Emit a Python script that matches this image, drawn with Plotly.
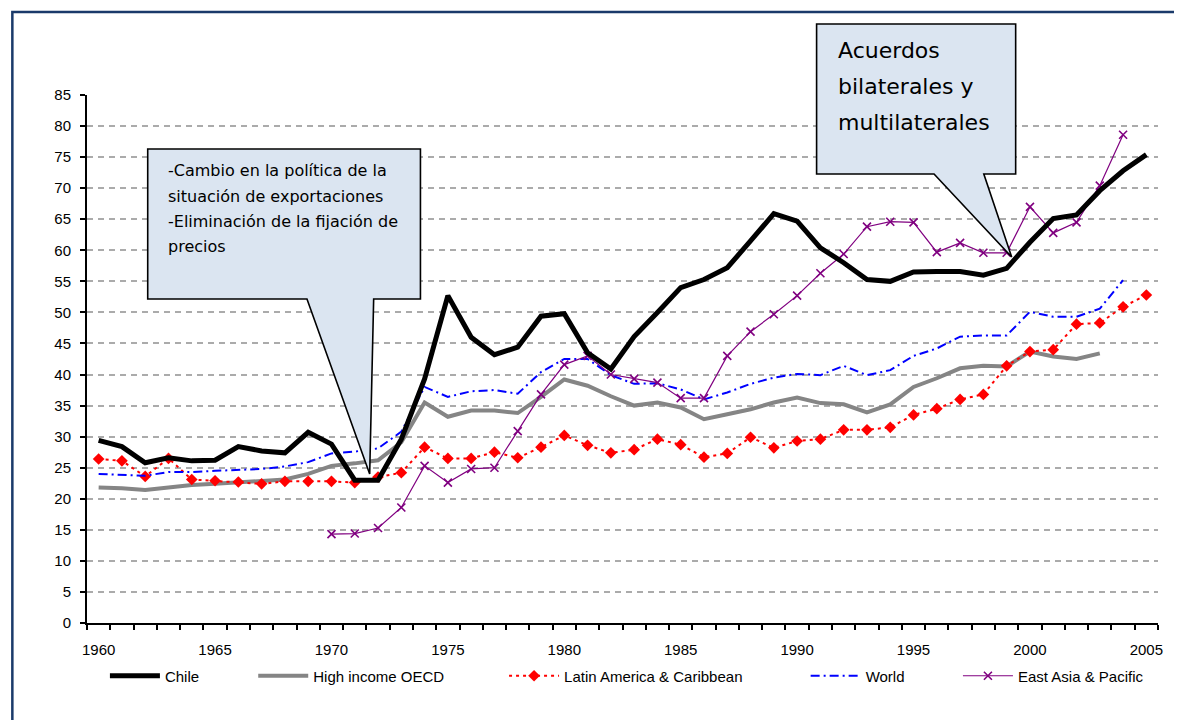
import plotly.graph_objects as go

# ---------------- data ----------------
years = list(range(1960, 2006))

chile = [29.4, 28.4, 25.8, 26.6, 26.1, 26.2, 28.4, 27.7, 27.4, 30.7,
         28.8, 23.0, 23.0, 29.6, 39.3, 52.7, 46.0, 43.2, 44.4, 49.4,
         49.8, 43.5, 40.9, 46.1, 50.0, 54.0, 55.3, 57.2, 61.5, 65.9,
         64.7, 60.4, 58.0, 55.3, 55.0, 56.5, 56.6, 56.6, 56.0, 57.1,
         61.3, 65.1, 65.7, 69.6, 72.8, 75.4]

oecd_years = list(range(1960, 2004))
oecd = [21.8, 21.7, 21.4, 21.8, 22.2, 22.4, 22.6, 22.8, 23.1, 24.0,
        25.3, 25.7, 26.2, 29.1, 35.5, 33.2, 34.2, 34.2, 33.8, 36.4,
        39.2, 38.2, 36.5, 35.0, 35.5, 34.7, 32.8, 33.6, 34.4, 35.5,
        36.3, 35.4, 35.2, 33.9, 35.2, 38.0, 39.4, 41.0, 41.4, 41.3,
        43.7, 42.9, 42.5, 43.4]

latam = [26.4, 26.1, 23.6, 26.5, 23.1, 22.9, 22.7, 22.4, 22.8, 22.8,
         22.8, 22.6, 23.5, 24.2, 28.3, 26.5, 26.5, 27.5, 26.6, 28.3,
         30.2, 28.6, 27.4, 27.9, 29.6, 28.7, 26.7, 27.3, 29.9, 28.2,
         29.3, 29.6, 31.1, 31.1, 31.5, 33.5, 34.5, 36.0, 36.8, 41.4,
         43.7, 44.0, 48.1, 48.3, 50.9, 52.8]

world_years = list(range(1960, 2005))
world = [24.0, 23.9, 23.7, 24.3, 24.3, 24.5, 24.6, 24.8, 25.2, 25.9,
         27.3, 27.6, 28.1, 30.8, 38.0, 36.4, 37.3, 37.5, 36.9, 40.4,
         42.5, 42.5, 39.9, 38.5, 38.6, 37.6, 36.0, 37.1, 38.5, 39.5,
         40.1, 39.9, 41.4, 39.9, 40.7, 43.0, 44.2, 46.1, 46.3, 46.3,
         50.1, 49.3, 49.3, 50.6, 55.2]

eap_years = list(range(1970, 2005))
eap = [14.3, 14.4, 15.3, 18.6, 25.3, 22.6, 24.8, 25.0, 30.9, 36.8,
       41.6, 43.0, 40.0, 39.3, 38.7, 36.2, 36.2, 43.0, 46.9, 49.7,
       52.7, 56.3, 59.4, 63.8, 64.6, 64.5, 59.7, 61.2, 59.6, 59.6,
       67.0, 62.8, 64.5, 70.4, 78.6]

series_names = ["Chile", "High income OECD", "Latin America & Caribbean",
                "World", "East Asia & Pacific"]

y_ticks = list(range(0, 90, 5))
x_ticks = list(range(1960, 2010, 5))

callout1_lines = ["-Cambio en la política de la", "situación de exportaciones",
                  "-Eliminación de la fijación de", "precios"]
callout2_lines = ["Acuerdos", "bilaterales y", "multilaterales"]

# ---------------- layout helpers ----------------
# the page body has an 8px margin, so the figure is drawn 8px smaller and
# all screen positions below are given in window pixels
OFF = 8
W, H = 1182 - 2 * OFF, 728 - 2 * OFF
PLOT_L, PLOT_R, PLOT_T, PLOT_B = 87, 1163, 95, 623   # window pixels
ML, MR = PLOT_L - OFF, W - (PLOT_R - OFF)
MT, MB = PLOT_T - OFF, H - (PLOT_B - OFF)
PW, PH = PLOT_R - PLOT_L, PLOT_B - PLOT_T


def px(x):
    return (x - PLOT_L) / PW


def py(y):
    return (PLOT_B - y) / PH


AX_FONT = "Liberation Sans, Arial, sans-serif"
CALL_FONT = "DejaVu Sans, Verdana, sans-serif"

fig = go.Figure()

fig.add_trace(go.Scatter(
    x=oecd_years, y=oecd, name=series_names[1], mode="lines",
    line=dict(color="#858585", width=4), legend="legend2"))
fig.add_trace(go.Scatter(
    x=years, y=latam, name=series_names[2], mode="lines+markers",
    line=dict(color="#ff0000", width=2, dash="3px,4px"),
    marker=dict(symbol="diamond", size=9, color="#ff0000"), legend="legend3"))
fig.add_trace(go.Scatter(
    x=world_years, y=world, name=series_names[3], mode="lines",
    line=dict(color="#0000ff", width=2, dash="9px,4px,2px,4px"), legend="legend4"))
fig.add_trace(go.Scatter(
    x=eap_years, y=eap, name=series_names[4], mode="lines+markers",
    line=dict(color="#800080", width=1.2),
    marker=dict(symbol="x-thin-open", size=8, color="#800080",
                line=dict(color="#800080", width=1.6)), legend="legend5"))
fig.add_trace(go.Scatter(
    x=years, y=chile, name=series_names[0], mode="lines",
    line=dict(color="#000000", width=5), legend="legend"))


def poly(points):
    return "M " + " L ".join(f"{px(a):.5f},{py(b):.5f}" for a, b in points) + " Z"


shapes = [
    dict(type="path", xref="paper", yref="paper", layer="above",
         path=poly([(148, 149), (422, 149), (422, 299), (375, 299),
                    (371, 474), (308, 299), (148, 299)]),
         fillcolor="#dbe5f1", line=dict(color="#000000", width=1.6)),
    dict(type="path", xref="paper", yref="paper", layer="above",
         path=poly([(820, 24), (1020, 24), (1020, 174), (988, 174),
                    (1016, 257), (938, 174), (820, 174)]),
         fillcolor="#dbe5f1", line=dict(color="#000000", width=1.6)),
    dict(type="rect", xref="paper", yref="paper", layer="above",
         x0=px(12), x1=px(1240), y0=py(790), y1=py(12),
         line=dict(color="#1a3a6a", width=2.5), fillcolor="rgba(0,0,0,0)"),
]

annotations = []
for i, t in enumerate(callout1_lines):
    annotations.append(dict(xref="paper", yref="paper", x=px(166), y=py(170.5 + i * 25.5),
                            xanchor="left", yanchor="middle", text=t, showarrow=False,
                            font=dict(family=CALL_FONT, size=16, color="#000000")))
for i, t in enumerate(callout2_lines):
    annotations.append(dict(xref="paper", yref="paper", x=px(839), y=py(50 + i * 36.5),
                            xanchor="left", yanchor="middle", text=t, showarrow=False,
                            font=dict(family=CALL_FONT, size=22, color="#000000")))

leg_x = [109, 258, 510, 813, 966]
leg_common = dict(orientation="h", yanchor="middle", xanchor="left",
                  bgcolor="rgba(0,0,0,0)", borderwidth=0, itemwidth=50,
                  font=dict(family=AX_FONT, size=15, color="#000000"))
legends = {}
for i, key in enumerate(["legend", "legend2", "legend3", "legend4", "legend5"]):
    legends[key] = dict(x=px(leg_x[i] - 4), y=py(676), **leg_common)

fig.update_layout(
    width=W, height=H,
    margin=dict(l=ML, r=MR, t=MT, b=MB),
    paper_bgcolor="#ffffff", plot_bgcolor="#ffffff",
    showlegend=True, hovermode=False,
    shapes=shapes, annotations=annotations,
    **legends,
    xaxis=dict(range=[1959.5, 2005.5], tickmode="array", tickvals=x_ticks,
               ticktext=[str(v) for v in x_ticks], ticks="", showgrid=False,
               zeroline=False, showline=True, linecolor="#000000", linewidth=2,
               tickfont=dict(family=AX_FONT, size=15, color="#000000"),
               ticklabelstandoff=12,
               minor=dict(tickmode="linear", tick0=1959.5, dtick=1, ticks="outside",
                          ticklen=5, tickwidth=1.5, tickcolor="#000000", showgrid=False)),
    yaxis=dict(range=[0, 85], tickmode="array", tickvals=y_ticks, ticks="outside",
               ticklen=5, tickwidth=1.5, tickcolor="#000000",
               showgrid=True, gridcolor="#ababab", gridwidth=2, griddash="6px,5px",
               zeroline=False, showline=True, linecolor="#000000", linewidth=2,
               tickfont=dict(family=AX_FONT, size=15, color="#000000"),
               ticklabelstandoff=6),
)

fig.write_html("out.html")
